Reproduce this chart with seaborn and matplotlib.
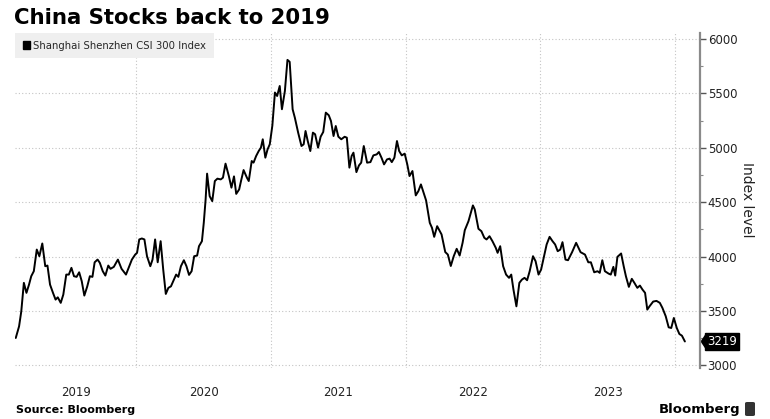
import pandas as pd
import matplotlib.pyplot as plt
from matplotlib.patches import Patch, FancyBboxPatch
from matplotlib.ticker import MultipleLocator
import seaborn as sns

# Weekly-ish closes of the CSI 300
dates = [
    "2019-02-08", "2019-02-17", "2019-02-23", "2019-03-02", "2019-03-09", "2019-03-16", "2019-03-22", "2019-03-29",
    "2019-04-06", "2019-04-13", "2019-04-21", "2019-04-29", "2019-05-05", "2019-05-12", "2019-05-20", "2019-05-27",
    "2019-06-02", "2019-06-10", "2019-06-17", "2019-06-25", "2019-07-02", "2019-07-09", "2019-07-16", "2019-07-23",
    "2019-07-30", "2019-08-06", "2019-08-13", "2019-08-21", "2019-08-28", "2019-09-04", "2019-09-10", "2019-09-18",
    "2019-09-24", "2019-10-02", "2019-10-09", "2019-10-17", "2019-10-23", "2019-11-01", "2019-11-12", "2019-11-22",
    "2019-12-04", "2019-12-20", "2019-12-29",
    "2020-01-03", "2020-01-09", "2020-01-16", "2020-01-23", "2020-01-30", "2020-02-08", "2020-02-14", "2020-02-21",
    "2020-02-28", "2020-03-07", "2020-03-14", "2020-03-21", "2020-03-28", "2020-04-04", "2020-04-10", "2020-04-18",
    "2020-04-24", "2020-05-01", "2020-05-09", "2020-05-16", "2020-05-23", "2020-05-30", "2020-06-06", "2020-06-14",
    "2020-06-19", "2020-06-27", "2020-07-02", "2020-07-07", "2020-07-11", "2020-07-18", "2020-07-25", "2020-08-01",
    "2020-08-08", "2020-08-17", "2020-08-23", "2020-08-30", "2020-09-08", "2020-09-15", "2020-09-22", "2020-09-28",
    "2020-10-06", "2020-10-11", "2020-10-18", "2020-10-27", "2020-11-01", "2020-11-09", "2020-11-14", "2020-11-21",
    "2020-11-28", "2020-12-04", "2020-12-09", "2020-12-16", "2020-12-22", "2020-12-28",
    "2021-01-04", "2021-01-11", "2021-01-17", "2021-01-24", "2021-01-30", "2021-02-07", "2021-02-14", "2021-02-20",
    "2021-02-28", "2021-03-06", "2021-03-15", "2021-03-24", "2021-03-30", "2021-04-04", "2021-04-10", "2021-04-17",
    "2021-04-24", "2021-04-30", "2021-05-08", "2021-05-15", "2021-05-22", "2021-05-29", "2021-06-06", "2021-06-12",
    "2021-06-19", "2021-06-25", "2021-07-02", "2021-07-10", "2021-07-19", "2021-07-25", "2021-08-01", "2021-08-07",
    "2021-08-12", "2021-08-20", "2021-08-27", "2021-09-02", "2021-09-09", "2021-09-18", "2021-09-27", "2021-10-05",
    "2021-10-14", "2021-10-20", "2021-10-27", "2021-11-03", "2021-11-11", "2021-11-18", "2021-11-24", "2021-12-01",
    "2021-12-08", "2021-12-14", "2021-12-21", "2021-12-29",
    "2022-01-05", "2022-01-11", "2022-01-19", "2022-01-28", "2022-02-04", "2022-02-11", "2022-02-19", "2022-02-25",
    "2022-03-07", "2022-03-13", "2022-03-19", "2022-03-27", "2022-04-08", "2022-04-18", "2022-04-25", "2022-05-03",
    "2022-05-11", "2022-05-19", "2022-05-27", "2022-06-04", "2022-06-10", "2022-06-20", "2022-07-02", "2022-07-07",
    "2022-07-17", "2022-07-25", "2022-08-02", "2022-08-08", "2022-08-16", "2022-08-24", "2022-09-02", "2022-09-07",
    "2022-09-14", "2022-09-22", "2022-09-30", "2022-10-08", "2022-10-14", "2022-10-20", "2022-10-28", "2022-11-05",
    "2022-11-12", "2022-11-19", "2022-11-26", "2022-12-03", "2022-12-12", "2022-12-19", "2022-12-27",
    "2023-01-03", "2023-01-11", "2023-01-18", "2023-01-26", "2023-02-03", "2023-02-10", "2023-02-17", "2023-02-24",
    "2023-03-02", "2023-03-10", "2023-03-17", "2023-03-28", "2023-04-08", "2023-04-20", "2023-05-02", "2023-05-11",
    "2023-05-18", "2023-05-27", "2023-06-05", "2023-06-11", "2023-06-18", "2023-06-25", "2023-07-05", "2023-07-11",
    "2023-07-18", "2023-07-23", "2023-07-29", "2023-08-08", "2023-08-15", "2023-08-21", "2023-08-29", "2023-09-06",
    "2023-09-13", "2023-09-21", "2023-09-28", "2023-10-05", "2023-10-12", "2023-10-18", "2023-10-24", "2023-11-03",
    "2023-11-12", "2023-11-21", "2023-11-28", "2023-12-07", "2023-12-15", "2023-12-22", "2023-12-29",
    "2024-01-06", "2024-01-13", "2024-01-20", "2024-01-28",
]

values = [
    3251, 3358, 3496, 3758, 3666, 3742, 3819, 3865, 4064, 4003, 4120, 3911, 3917, 3742, 3666, 3604,
    3625, 3574, 3650, 3834, 3834, 3896, 3819, 3813, 3855, 3773, 3641, 3726, 3819, 3813, 3947, 3972,
    3942, 3865, 3825, 3917, 3887, 3905, 3972, 3887, 3834, 3972, 4018,
    4034, 4157, 4166, 4157, 4003, 3911, 3972, 4157, 3947, 4141, 3880, 3656, 3712, 3726, 3773, 3834,
    3813, 3911, 3966, 3911, 3831, 3865, 4003, 4009, 4095, 4141, 4310, 4525, 4762, 4555, 4509, 4694,
    4716, 4709, 4725, 4854, 4740, 4633, 4737, 4576, 4617, 4694, 4795, 4725, 4694, 4878, 4863, 4924,
    4970, 5001, 5078, 4909, 4985, 5032,
    5203, 5508, 5476, 5568, 5354, 5522, 5808, 5790, 5354, 5277, 5139, 5016, 5032, 5154, 5062, 4970,
    5139, 5124, 5001, 5102, 5145, 5323, 5299, 5246, 5108, 5200, 5102, 5078, 5101, 5093, 4817, 4924,
    4955, 4776, 4838, 4863, 5016, 4863, 4868, 4930, 4939, 4961, 4909, 4847, 4893, 4900, 4868, 4909,
    5062, 4970, 4930, 4946,
    4847, 4740, 4786, 4562, 4601, 4663, 4580, 4516, 4310, 4264, 4181, 4279, 4203, 4041, 4018, 3913,
    4003, 4071, 4009, 4126, 4242, 4325, 4470, 4433, 4255, 4233, 4172, 4157, 4187, 4141, 4080, 4034,
    4095, 3911, 3834, 3804, 3834, 3696, 3542, 3758, 3788, 3804, 3782, 3865, 4003, 3957, 3834,
    3880, 4003, 4111, 4181, 4141, 4111, 4049, 4064, 4132, 3972, 3966, 4040, 4126, 4040, 4018, 3947,
    3947, 3855, 3865, 3850, 3966, 3865, 3843, 3834, 3905, 3825, 3997, 4028, 3911, 3819, 3721, 3795,
    3758, 3712, 3733, 3696, 3666, 3512, 3542, 3586, 3592, 3574, 3528, 3451, 3349, 3343, 3435,
    3343, 3288, 3272, 3219,
]

year_labels = [2019, 2020, 2021, 2022, 2023]
last_value = 3219

sns.set_style('white')
plt.rcParams['font.family'] = ['DejaVu Sans']

df = pd.DataFrame({'date': pd.to_datetime(dates), 'value': values})

fig = plt.figure(figsize=(7.7, 4.19), dpi=100)
ax = fig.add_axes([0.0195, 0.1217, 0.8896, 0.7995])

sns.lineplot(data=df, x='date', y='value', ax=ax, color='black', linewidth=1.4)

x_start = pd.Timestamp('2019-02-06')
x_end = pd.Timestamp('2024-03-09')
ax.set_xlim(x_start, x_end)
ax.set_ylim(2975, 6055)
ax.set_xlabel('')
ax.set_ylabel('')

# year labels centred over the visible part of each year, gridlines on Jan 1
mids = []
for y in year_labels:
    a = max(pd.Timestamp(f'{y}-01-01'), x_start)
    b = pd.Timestamp(f'{y + 1}-01-01')
    mids.append(a + (b - a) / 2)
ax.set_xticks(mids)
ax.set_xticklabels([str(y) for y in year_labels])
ax.set_xticks([pd.Timestamp(f'{y}-01-01') for y in range(2020, 2025)], minor=True)
ax.tick_params(axis='x', which='both', length=0, pad=13, labelsize=8.5, labelcolor='#222222')

ax.yaxis.tick_right()
ax.yaxis.set_major_locator(MultipleLocator(500))
ax.yaxis.set_minor_locator(MultipleLocator(250))
ax.tick_params(axis='y', which='major', direction='out', length=4, width=1, color='#555555',
               pad=1.5, labelsize=8.5, labelcolor='#222222')
ax.tick_params(axis='y', which='minor', direction='out', length=2.5, width=0.8, color='#888888')

ax.xaxis.grid(True, which='minor', linestyle=(0, (1, 2)), color='#c4c4c4', linewidth=0.8)
ax.yaxis.grid(True, which='major', linestyle=(0, (1, 2)), color='#c4c4c4', linewidth=0.8)

for side in ['top', 'left', 'bottom']:
    ax.spines[side].set_visible(False)
ax.spines['right'].set_color('#8a8a8a')
ax.spines['right'].set_linewidth(1.6)

leg = ax.legend(handles=[Patch(facecolor='black', edgecolor='black')],
                labels=['Shanghai Shenzhen CSI 300 Index'],
                loc='upper left', bbox_to_anchor=(0, 1), borderaxespad=0,
                frameon=True, fancybox=False, facecolor='#efefef', edgecolor='#efefef',
                framealpha=1, fontsize=7.3, handlelength=0.75, handleheight=0.75,
                handletextpad=0.3, borderpad=0.75)
leg.get_frame().set_linewidth(0)

# last-value tag: black box with a short pointed left side touching the axis
tag_trans = ax.get_yaxis_transform()
ax.annotate(str(last_value), xy=(1, last_value), xycoords=tag_trans,
            xytext=(5.0, 0), textcoords='offset points', ha='left', va='center',
            color='white', fontsize=8.5,
            bbox=dict(boxstyle='square,pad=0.15', fc='black', ec='black'))
ax.plot([1], [last_value], marker=[(0, 0), (4, 6), (4, -6), (0, 0)], markersize=12.5,
        color='black', markeredgewidth=0, transform=tag_trans, clip_on=False)

fig.text(747 / 770, 1 - 200 / 419, 'Index level', rotation=270, ha='center', va='center',
         fontsize=10, color='#222222')

fig.text(14 / 770, 1 - 18 / 419, 'China Stocks back to 2019', ha='left', va='center',
         fontsize=15.3, fontweight='bold', color='black')
fig.text(16 / 770, 1 - 410 / 419, 'Source: Bloomberg', ha='left', va='center',
         fontsize=8, fontweight='bold', color='black')
fig.text(740 / 770, 1 - 409 / 419, 'Bloomberg', ha='right', va='center',
         fontsize=9.5, fontweight='bold', color='black')
fig.patches.append(FancyBboxPatch((745 / 770, 1 - 416 / 419), 10 / 770, 14 / 419,
                                  boxstyle='round,pad=0,rounding_size=0.003',
                                  transform=fig.transFigure, fc='#333333', ec='none'))

fig.savefig('out.png', dpi=100)
